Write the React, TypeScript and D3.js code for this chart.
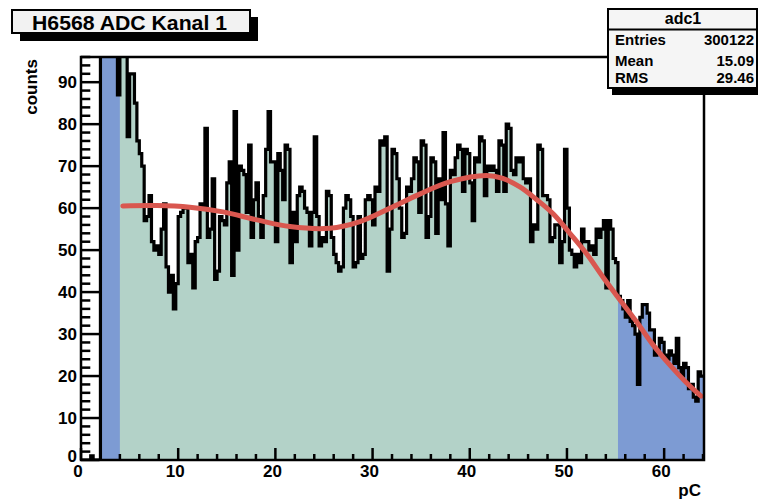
import React from "react";
import * as d3 from "d3";

// ADC spectrum, 0.25 pC bins from 0 to 64 pC (bins 8-18 are the pedestal, clipped)
const counts = [
  0, 0, 0, 0, 1, 0, 0, 0, 2400, 9000, 15000, 12000, 6000, 2500, 700, 87,
  180, 120, 100, 77, 92, 92, 85, 76, 73, 70, 57, 58, 63, 52, 50, 51,
  49, 55, 61, 46, 40, 44, 36, 42, 58, 59, 60, 60, 47, 49, 41, 52,
  53, 61, 60, 79, 53, 55, 67, 43, 45, 58, 57, 56, 66, 71, 44, 83,
  50, 70, 69, 68, 59, 75, 53, 62, 66, 58, 53, 63, 74, 83, 71, 71,
  52, 73, 69, 62, 75, 74, 47, 59, 52, 63, 65, 64, 60, 59, 51, 59,
  77, 58, 51, 53, 52, 64, 63, 53, 49, 47, 45, 46, 60, 63, 62, 58,
  46, 47, 58, 48, 49, 62, 63, 62, 56, 65, 64, 76, 75, 77, 45, 55,
  74, 73, 67, 60, 53, 54, 65, 64, 67, 72, 71, 59, 76, 75, 53, 58,
  72, 71, 54, 67, 62, 78, 61, 51, 69, 68, 72, 75, 74, 64, 74, 73,
  66, 57, 72, 71, 77, 76, 63, 70, 69, 70, 69, 64, 76, 75, 64, 80,
  79, 69, 68, 72, 71, 72, 67, 66, 67, 52, 56, 55, 75, 74, 63, 63,
  62, 52, 53, 56, 56, 47, 52, 74, 60, 50, 49, 46, 49, 47, 55, 52,
  52, 50, 51, 49, 55, 53, 55, 57, 41, 57, 55, 48, 47, 39, 38, 36,
  34, 38, 33, 32, 30, 18, 34, 37, 37, 35, 31, 31, 25, 26, 29, 28,
  25, 24, 26, 25, 23, 29, 22, 20, 23, 22, 17, 18, 15, 14, 21, 20,
];
const binWidth = 0.25;
const fitFirstBin = 16;
const fitLastBin = 220;

// fitted curve
const fitX = [4.3, 7.8, 11.2, 14.6, 18.1, 21.5, 25.6, 28.7, 31.8, 34.9, 38.0, 41.7, 43.4, 45.2, 46.9, 48.6, 50.3, 52.0, 53.7, 55.5, 57.2, 58.8, 60.6, 62.3, 63.8];
const fitY = [60.5, 60.6, 60.2, 59.1, 57.2, 55.6, 55.2, 56.8, 60.0, 63.4, 66.3, 67.8, 67.1, 65.0, 62.0, 58.6, 54.0, 49.2, 43.6, 38.0, 32.8, 27.6, 22.6, 18.4, 15.2];

const xTicks = [0, 10, 20, 30, 40, 50, 60];
const yTicks = [0, 10, 20, 30, 40, 50, 60, 70, 80, 90];
const statNames = ["Entries", "Mean", "RMS"];
const statValues = ["300122", "15.09", "29.46"];

const font = "'Liberation Sans', Arial, Helvetica, sans-serif";

export default function App() {
  const x = d3.scaleLinear().domain([0, 64.1]).range([81, 704]);
  const y = d3.scaleLinear().domain([0, 96]).range([460, 57]);

  const pts: [number, number][] = counts.map((c, i) => [i * binWidth, c]);
  pts.push([counts.length * binWidth, counts[counts.length - 1]]);
  const fitPts = pts.slice(fitFirstBin, fitLastBin + 1);
  fitPts.push([(fitLastBin + 1) * binWidth, counts[fitLastBin]]);

  const area = d3
    .area<[number, number]>()
    .curve(d3.curveStepAfter)
    .x(d => x(d[0]))
    .y0(y(0))
    .y1(d => y(d[1]));
  const line = d3
    .line<[number, number]>()
    .curve(d3.curveStepAfter)
    .x(d => x(d[0]))
    .y(d => y(d[1]));
  const fitLine = d3
    .line<number>()
    .curve(d3.curveCatmullRom)
    .x((d, i) => x(fitX[i]))
    .y(d => y(d));

  const [x0, x1] = x.range();
  const [yb, yt] = y.range();
  const xMinor = d3.range(0, 64.01, 2);
  const yMinor = d3.range(0, 96.01, 2);
  const statY = [45, 65.5, 82.5];

  return (
    <svg width={767} height={504} style={{ position: "absolute", left: 0, top: 0, background: "#fff" }} fontFamily={font} fontWeight="bold">
      <defs>
        <clipPath id="plot">
          <rect x={x0} y={yt} width={x1 - x0} height={yb - yt} />
        </clipPath>
      </defs>

      <g clipPath="url(#plot)">
        <path d={area(pts) || ""} fill="#7d9bd3" />
        <path d={area(fitPts) || ""} fill="#b3d2c8" />
        <path d={line(pts) || ""} fill="none" stroke="#000" strokeWidth={3.2} />
        <path d={fitLine(fitY) || ""} fill="none" stroke="#d9574f" strokeWidth={5} strokeLinecap="round" />
      </g>

      {/* ticks */}
      <g stroke="#000" strokeWidth={2.5}>
        {yMinor.map(v => (
          <line key={"ym" + v} x1={x0} x2={x0 + (v % 10 === 0 ? 18.5 : 9.3)} y1={y(v)} y2={y(v)} />
        ))}
        {xMinor.map(v => (
          <line key={"xm" + v} x1={x(v)} x2={x(v)} y1={yb} y2={yb - (v % 10 === 0 ? 12 : 6)} />
        ))}
      </g>
      <rect x={x0} y={yt} width={x1 - x0} height={yb - yt} fill="none" stroke="#000" strokeWidth={2.5} />

      <g fontSize={17} fill="#000">
        {yTicks.map(v => (
          <text key={"yl" + v} x={77} y={v === 0 ? y(v) - 4 : y(v)} dy="0.35em" textAnchor="end">{v}</text>
        ))}
        {xTicks.map(v => (
          <text key={"xl" + v} x={x(v) - 3} y={477} textAnchor="middle">{v}</text>
        ))}
        <text x={701} y={496} textAnchor="end">pC</text>
        <text transform="translate(37,59) rotate(-90)" textAnchor="end">counts</text>
      </g>

      {/* title */}
      <rect x={20} y={17} width={238} height={24} fill="#000" />
      <rect x={12} y={10} width={238} height={23} fill="#f2f2f2" stroke="#000" strokeWidth={2} />
      <text x={32} y={29.5} fontSize={20} textLength={195} lengthAdjust="spacingAndGlyphs">H6568 ADC Kanal 1</text>

      {/* stats box */}
      <rect x={612} y={16} width={146} height={79} fill="#000" />
      <rect x={608} y={9} width={149} height={79} fill="#f5f5f5" stroke="#000" strokeWidth={2} />
      <line x1={608} x2={757} y1={29.5} y2={29.5} stroke="#000" strokeWidth={2} />
      <text x={683} y={24} fontSize={16} textAnchor="middle">adc1</text>
      {statNames.map((n, i) => (
        <g key={n} fontSize={15}>
          <text x={615} y={statY[i]}>{n}</text>
          <text x={754} y={statY[i]} textAnchor="end">{statValues[i]}</text>
        </g>
      ))}
    </svg>
  );
}
